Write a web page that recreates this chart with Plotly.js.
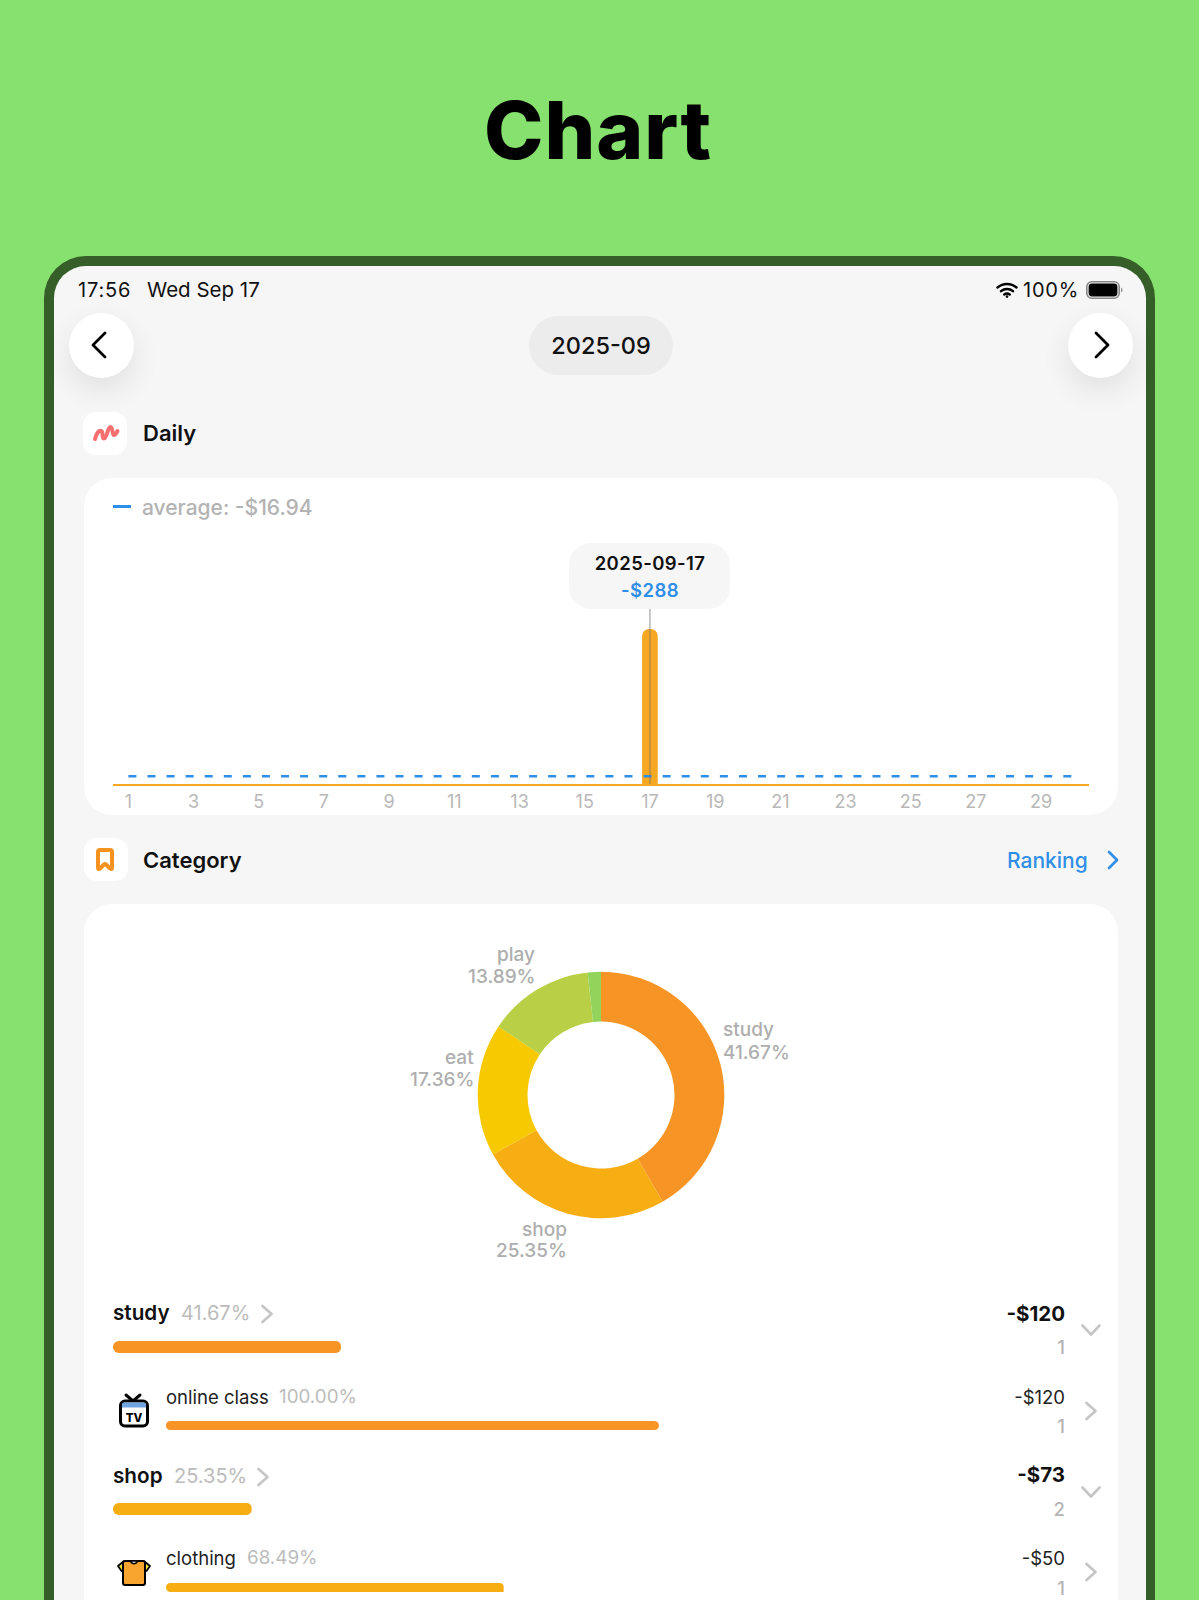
<!DOCTYPE html>
<html>
<head>
<meta charset="utf-8">
<script src="https://cdn.plot.ly/plotly-3.0.1.min.js"></script>
<style>
  html, body { margin:0; padding:0; width:1199px; height:1600px; overflow:hidden; background:#87e16f; font-family:Inter, "Noto Sans", sans-serif; }
  #page { position:relative; width:1199px; height:1600px; overflow:hidden; }
  .abs { position:absolute; }
  .t { position:absolute; white-space:nowrap; transform:translateY(-50%); line-height:1; }
  .r { transform:translate(-100%,-50%); }
  .c { transform:translate(-50%,-50%); }
  #title { font-family:Inter, sans-serif; font-weight:800; font-size:80px; color:#000; letter-spacing:1px; }
  #frame { left:44px; top:256px; width:1111px; height:1400px; background:#355e28; border-radius:42px; }
  #screen { left:54px; top:266px; width:1092px; height:1400px; background:#f6f6f6; border-radius:32px; }
  .round { width:65px; height:65px; border-radius:50%; background:#fff; box-shadow:0 12px 30px rgba(0,0,0,.09); }
  .tile { width:44px; height:43px; background:#fff; border-radius:13px; }
  .card { background:#fff; border-radius:28px; }
  .head { font-size:22px; font-weight:600; color:#111; }
  .status { font-size:20px; font-weight:400; color:#111; }
  .name { font-size:20.700px; font-weight:600; color:#111; }
  .sub { font-size:18.500px; font-weight:400; color:#222; }
  .pct { font-size:20px; font-weight:400; color:#bcbcbc; }
  .pct2 { font-size:18.800px; font-weight:400; color:#bcbcbc; }
  .amt { font-size:20.500px; font-weight:700; color:#111; }
  .amt2 { font-size:18.500px; font-weight:400; color:#222; }
  .cnt { font-size:18.500px; font-weight:500; color:#b5b5b5; }
  .bar { position:absolute; overflow:hidden; }
  svg.abs { overflow:visible; }
</style>
</head>
<body>
<div id="page">
  <div class="t c" id="title" style="left:598px;top:130px">Chart</div>
  <div class="abs" id="frame"></div>
  <div class="abs" id="screen"></div>

  <div class="t status" style="left:78px;top:290px;letter-spacing:.8px">17:56</div>
  <div class="t status" style="left:147px;top:290px;font-size:20.500px">Wed Sep 17</div>
  <svg class="abs" style="left:996px;top:282px" width="22" height="16" viewBox="0 0 22 16"><path d="M1.500 5.500C7 .8 15 .8 20.500 5.500M5 9.200C8.500 6.300 13.500 6.300 17 9.200M8.300 12.500c1.600-1.200 3.800-1.200 5.400 0" fill="none" stroke="#000" stroke-width="2.400" stroke-linecap="round"/><circle cx="11" cy="14.600" r="1.300"/></svg>
  <div class="t status" style="left:1023px;top:290px;letter-spacing:.8px">100%</div>
  <svg class="abs" style="left:1086px;top:281px" width="37" height="18" viewBox="0 0 37 18"><rect x=".8" y=".8" width="32.400" height="16.400" rx="5" fill="none" stroke="#888" stroke-width="1.600"/><rect x="2.600" y="2.600" width="28.800" height="12.800" rx="3.400" fill="#000"/><path d="M35 6.500c1.200.4 1.600 1.400 1.600 2.500s-.4 2.100-1.600 2.500z" fill="#999"/></svg>

  <div class="abs round" style="left:68.500px;top:312.500px"></div>
  <div class="abs round" style="left:1067.500px;top:312.500px"></div>
  <svg class="abs" style="left:90px;top:331px" width="20" height="28"><path d="M15 2 L3 14 L15 26" fill="none" stroke="#000" stroke-width="2.800" stroke-linecap="round" stroke-linejoin="round"/></svg>
  <svg class="abs" style="left:1091px;top:331px" width="20" height="28"><path d="M5 2 L17 14 L5 26" fill="none" stroke="#000" stroke-width="2.800" stroke-linecap="round" stroke-linejoin="round"/></svg>

  <div class="abs" style="left:529px;top:316px;width:144px;height:59px;border-radius:30px;background:#ececec"></div>
  <div class="t c" style="left:601px;top:346px;font-size:23.500px;font-weight:500;color:#111">2025-09</div>

  <div class="abs tile" style="left:83px;top:412px"></div>
  <svg class="abs" style="left:92px;top:421px" width="28" height="24"><path d="M3 18 C4.500 12 7 9 9.500 10 C11.500 11 9.500 17.500 12 17.500 C15 17.500 15.500 6 18.500 6 C21 6 20 14 22 14 C23.500 14 24.500 12 25.500 10" fill="none" stroke="#f56f6f" stroke-width="4" stroke-linecap="round"/></svg>
  <div class="t head" style="left:143px;top:433px">Daily</div>

  <div class="abs card" style="left:84px;top:478px;width:1034px;height:337px"></div>
  <div class="abs" style="left:113px;top:505px;width:18px;height:2.500px;background:#2f8fe8"></div>
  <div class="t" style="left:142px;top:507px;font-size:21px;font-weight:500;color:#b3b3b3">average: -$16.94</div>

  <div class="abs" id="daily" style="left:113px;top:605px;width:976px;height:212px"></div>
  <div class="abs" style="left:569px;top:543px;width:161px;height:66px;border-radius:22px;background:#f6f6f6"></div>
  <div class="t c" style="left:650px;top:563px;font-size:18.500px;font-weight:600;color:#111;letter-spacing:.4px">2025-09-17</div>
  <div class="t c" style="left:650px;top:590px;font-size:18.500px;font-weight:600;color:#2f8fe8;letter-spacing:.4px">-$288</div>

  <div class="abs tile" style="left:84px;top:838px"></div>
  <svg class="abs" style="left:95px;top:848px" width="20" height="24"><path d="M3 4 Q3 2 5 2 H15 Q17 2 17 4 V19.500 Q17 22 15 20.500 L11 16.500 Q10 15.500 9 16.500 L5 20.500 Q3 22 3 19.500 Z" fill="none" stroke="#f6921e" stroke-width="4" stroke-linejoin="round"/></svg>
  <div class="t head" style="left:143px;top:860px">Category</div>
  <div class="t" style="left:1007px;top:860px;font-size:21px;font-weight:500;color:#2f8fe8">Ranking</div>
  <svg class="abs" style="left:1106px;top:850px" width="14" height="20"><path d="M3 2 L11 10 L3 18" fill="none" stroke="#2f8fe8" stroke-width="2.600" stroke-linecap="round" stroke-linejoin="round"/></svg>

  <div class="abs card" style="left:84px;top:904px;width:1034px;height:800px"></div>
  <div class="abs" id="donut" style="left:401px;top:905px;width:400px;height:380px"></div>

  <svg class="abs" style="left:114px;top:1393px" width="38" height="36" viewBox="0 0 38 36"><path d="M12 2 L19 8 L26 2" fill="none" stroke="#000" stroke-width="3" stroke-linecap="round"/><rect x="6.500" y="8" width="27" height="25" rx="4.500" fill="#fff" stroke="#000" stroke-width="3"/><path d="M8 14.500 V12 Q8 9.500 10.500 9.500 H29.500 Q32 9.500 32 12 V14.500 Z" fill="#6fa3e0"/><text x="20" y="29" text-anchor="middle" font-family="Inter" font-size="11.500" font-weight="800">TV</text></svg>
  <svg class="abs" style="left:117px;top:1560px" width="34" height="26" viewBox="0 0 34 26"><path d="M6.500 1.500 L1 6 L4.500 11 L7 10 Z M27.500 1.500 L33 6 L29.500 11 L27 10 Z" fill="#f5e83c" stroke="#000" stroke-width="1.800" stroke-linejoin="round"/><path d="M6 3 Q6 1 8 1 H26 Q28 1 28 3 V23 Q28 25 26 25 H8 Q6 25 6 23 Z" fill="#f7a52f" stroke="#000" stroke-width="2" stroke-linejoin="round"/><path d="M13 1 Q17 6.500 21 1 Z" fill="#fff" stroke="#000" stroke-width="1.500"/></svg>
</div>

<script>
// daily tab
const days = [1,2,3,4,5,6,7,8,9,10,11,12,13,14,15,16,17,18,19,20,21,22,23,24,25,26,27,28,29,30];
const dailySpend = [0,0,0,0,0,0,0,0,0,0,0,0,0,0,0,0,288,0,0,0,0,0,0,0,0,0,0,0,0,0];
const avgDays = [1,30];
const avgSpend = [16.94,16.94];
const tickDays = [1,3,5,7,9,11,13,15,17,19,21,23,25,27,29];

// category donut
const catNames = ['study','shop','eat','play',''];
const catPercents = [41.67,25.35,17.36,13.89,1.73];
const catColors = ['#f69526','#f6ae12','#f6c900','#b9cf45','#92d35c'];

// list rows
const rowNames = ['study','online class','shop','clothing'];
const rowPercents = [41.67,100,25.35,68.49];
const rowAmounts = ['-$120','-$120','-$73','-$50'];
const rowCounts = [1,1,2,1];
const rowColors = ['#f69526','#f69526','#f6ae12','#f6ae12'];
const rowIsParent = [true,false,true,false];

const C = {orange:'#f7a823', blue:'#2f8fe8', tick:'#b8b8b8', label:'#aeaeae'};
const FONT = 'Inter, "Noto Sans", sans-serif';
const page = document.getElementById('page');

Plotly.newPlot('daily', [
  {type:'bar', x:days, y:dailySpend, width:0.48, marker:{color:C.orange}},
  {type:'scatter', mode:'lines', x:avgDays, y:avgSpend, line:{color:C.blue, width:2.500, dash:'8px,11.080px'}}
], {
  width:976, height:212,
  margin:{l:0, r:0, t:4, b:33},
  paper_bgcolor:'rgba(0,0,0,0)', plot_bgcolor:'rgba(0,0,0,0)',
  showlegend:false, barcornerradius:8,
  font:{family:FONT},
  xaxis:{range:[0.528,30.47], tickvals:tickDays, ticktext:tickDays.map(String), showgrid:false, zeroline:false,
    showline:true, linecolor:C.orange, linewidth:2, ticks:'', ticklen:0, tickfont:{size:18, color:C.tick}},
  yaxis:{range:[2.76,324.8], visible:false, fixedrange:true},
  shapes:[{type:'line', xref:'x', yref:'paper', x0:17, x1:17, y0:0, y1:1, layer:'above', line:{color:'rgba(110,110,110,.5)', width:1.500}}]
}, {staticPlot:true});

const R = 123.3, W = 400, H = 380;
// label anchors in the donut div, px
const labelX = [320,168,75,136];
const labelNameY = [124,324,152,49];
const labelPctY = [147,345,174,71];
const labelSide = ['left','right','right','right'];
const labelAnn = (text,lx,ly,side) => ({
  xref:'paper', yref:'paper', x:lx/W, y:1-ly/H, xanchor:side, yanchor:'middle', align:side, showarrow:false,
  text:text, font:{family:FONT, size:19, weight:500, color:C.label}
});
Plotly.newPlot('donut', [{
  type:'pie', labels:catNames.map((n,i)=>n||'other'), values:catPercents, hole:0.596, sort:false, direction:'clockwise', rotation:0,
  marker:{colors:catColors, line:{width:0}}, textinfo:'none',
  domain:{x:[0.5-R/W,0.5+R/W], y:[0.5-R/H,0.5+R/H]}
}], {
  width:W, height:H, margin:{l:0,r:0,t:0,b:0}, paper_bgcolor:'rgba(0,0,0,0)', showlegend:false,
  annotations: labelX.flatMap((lx,i)=>[
    labelAnn(catNames[i], lx, labelNameY[i], labelSide[i]),
    labelAnn(catPercents[i].toFixed(2)+'%', lx, labelPctY[i], labelSide[i])
  ])
}, {staticPlot:true});

function addText(text, x, y, cls) {
  const d = document.createElement('div');
  d.className = 't ' + cls;
  d.textContent = text;
  d.style.left = x + 'px';
  d.style.top = y + 'px';
  page.appendChild(d);
}
function chevron(x, y, down) {
  const s = document.createElementNS('http://www.w3.org/2000/svg','svg');
  s.setAttribute('class','abs');
  s.setAttribute('width',24); s.setAttribute('height',24);
  s.style.left = (x-12)+'px'; s.style.top = (y-12)+'px';
  s.innerHTML = '<path d="'+(down?'M3.500 7.500 L12 16.500 L20.500 7.500':'M7.500 4 L16.500 12 L7.500 20')+'" fill="none" stroke="#c6c6c6" stroke-width="2.700" stroke-linecap="round" stroke-linejoin="round"/>';
  page.appendChild(s);
}

// y positions of the list rows
const rowTextY = [1313,1397,1476,1558];
const rowBarY = [1341,1421,1503,1583];
const rowPctX = [181,279,174,247];
const rowChevX = [267,0,263,0];
const rowAmtY = [1314,1397,1475,1558];
const rowCntY = [1347,1426,1509,1588];
const rowSideChevY = [1330,1411,1492,1572];

rowNames.forEach((name,i) => {
  const parent = rowIsParent[i];
  addText(name, parent?113:166, rowTextY[i], parent?'name':'sub');
  addText(rowPercents[i].toFixed(2)+'%', rowPctX[i], rowTextY[i], parent?'pct':'pct2');
  if (parent) chevron(rowChevX[i], rowTextY[i]+1, false);
  addText(rowAmounts[i], 1065, rowAmtY[i], 'r '+(parent?'amt':'amt2'));
  addText(String(rowCounts[i]), 1065, rowCntY[i], 'r cnt');
  chevron(1091, rowSideChevY[i], parent);

  const w = parent?546.5:493, h = parent?11.5:9;
  const div = document.createElement('div');
  div.className = 'bar';
  div.style.cssText = 'left:'+(parent?113:166)+'px;top:'+rowBarY[i]+'px;width:'+w+'px;height:'+h+'px;border-radius:'+(h/2)+'px';
  page.appendChild(div);
  Plotly.newPlot(div, [{type:'bar', orientation:'h', x:[rowPercents[i]], y:[name], width:1, marker:{color:rowColors[i]}}], {
    width:w, height:h, margin:{l:0,r:0,t:0,b:0}, barcornerradius:h/2,
    paper_bgcolor:'rgba(0,0,0,0)', plot_bgcolor:'rgba(0,0,0,0)',
    xaxis:{range:[0,100], visible:false}, yaxis:{visible:false}
  }, {staticPlot:true});
});
</script>
</body>
</html>
